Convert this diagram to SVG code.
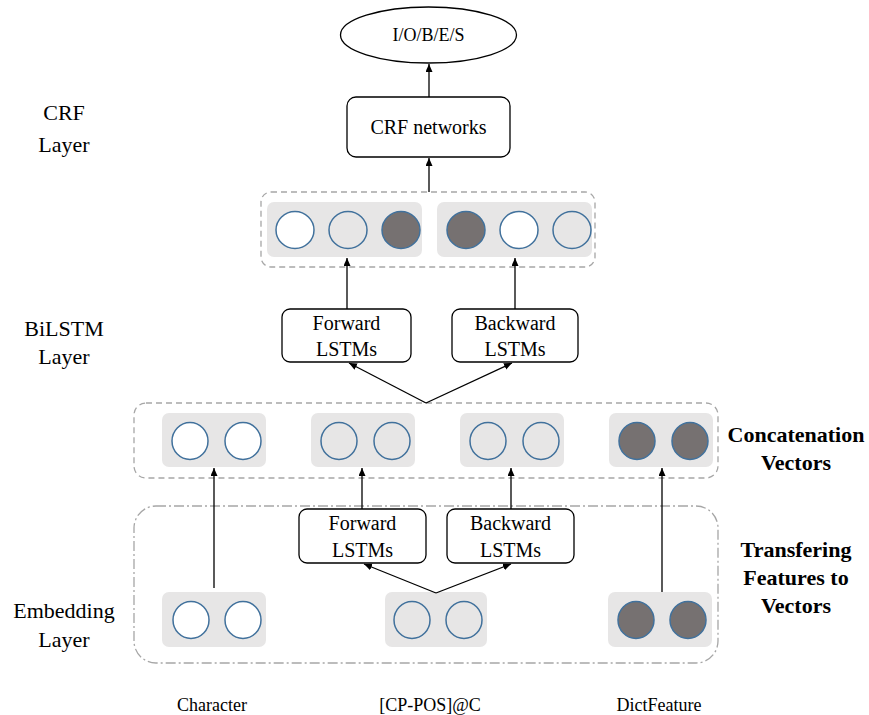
<svg xmlns="http://www.w3.org/2000/svg" width="869" height="715" viewBox="0 0 869 715">
<style>
text{font-family:"Liberation Serif","Times New Roman",serif;fill:#000;text-anchor:middle}
.lbl{font-size:22px}
.bold{font-size:22px;font-weight:bold}
.node{font-size:20px}
.small{font-size:18px}
.box{fill:#fff;stroke:#000;stroke-width:1.3}
.gbox{fill:#e7e6e6;stroke:none}
.dash{fill:none;stroke:#a6a6a6;stroke-width:1.3;stroke-dasharray:6 4}
.dashdot{fill:none;stroke:#a6a6a6;stroke-width:1.3;stroke-dasharray:10 3 2 3}
.cw{fill:#fff;stroke:#41719c;stroke-width:1.5}
.cl{fill:#e7e6e6;stroke:#41719c;stroke-width:1.5}
.cd{fill:#767171;stroke:#41719c;stroke-width:1.5}
.conn{fill:none;stroke:#000;stroke-width:1.3}
</style>
<defs>
<marker id="ah" markerUnits="userSpaceOnUse" markerWidth="9" markerHeight="8" refX="8" refY="3.5" orient="auto">
<path d="M0,0 L8,3.5 L0,7 z" fill="#000"/>
</marker>
</defs>

<g id="side-labels">
<text class="lbl" x="64" y="120">CRF</text>
<text class="lbl" x="64" y="152">Layer</text>
<text class="lbl" x="64" y="336">BiLSTM</text>
<text class="lbl" x="64" y="364">Layer</text>
<text class="lbl" x="64" y="618">Embedding</text>
<text class="lbl" x="64" y="647">Layer</text>
<text class="bold" x="796" y="442">Concatenation</text>
<text class="bold" x="796" y="470">Vectors</text>
<text class="bold" x="796" y="557">Transfering</text>
<text class="bold" x="796" y="585">Features to</text>
<text class="bold" x="796" y="613">Vectors</text>
<text class="small" x="212" y="711">Character</text>
<text class="small" x="430" y="711">[CP-POS]@C</text>
<text class="small" x="659" y="711">DictFeature</text>
</g>

<g id="output">
<ellipse cx="428.5" cy="35" rx="88" ry="28" class="box"/>
<text class="small" x="428.5" y="41">I/O/B/E/S</text>
</g>

<g id="crf">
<rect x="347" y="97" width="163" height="60" rx="9" class="box"/>
<text class="node" x="428.5" y="134">CRF networks</text>
</g>

<g id="bilstm-output">
<rect x="261" y="192" width="334" height="75" rx="10" class="dash"/>
<rect x="267" y="202" width="155" height="55" rx="7" class="gbox"/>
<rect x="437" y="202" width="155" height="55" rx="7" class="gbox"/>
<ellipse cx="295" cy="230" rx="19" ry="18.5" class="cw"/>
<ellipse cx="348" cy="230" rx="19" ry="18.5" class="cl"/>
<ellipse cx="401" cy="230" rx="19" ry="18.5" class="cd"/>
<ellipse cx="466" cy="230" rx="19" ry="18.5" class="cd"/>
<ellipse cx="519" cy="230" rx="19" ry="18.5" class="cw"/>
<ellipse cx="572" cy="230" rx="19" ry="18.5" class="cl"/>
</g>

<g id="forward-top">
<rect x="282" y="309" width="129" height="53" rx="8" class="box"/>
<text class="node" x="346.5" y="330">Forward</text>
<text class="node" x="346.5" y="356">LSTMs</text>
</g>
<g id="backward-top">
<rect x="452" y="309" width="126" height="53" rx="8" class="box"/>
<text class="node" x="515" y="330">Backward</text>
<text class="node" x="515" y="356">LSTMs</text>
</g>

<g id="concatenation">
<rect x="134" y="403" width="584" height="75" rx="12" class="dash"/>
<rect x="162" y="413" width="104" height="54" rx="7" class="gbox"/>
<rect x="311" y="413" width="104" height="54" rx="7" class="gbox"/>
<rect x="460" y="413" width="104" height="54" rx="7" class="gbox"/>
<rect x="609" y="413" width="104" height="54" rx="7" class="gbox"/>
<ellipse cx="190" cy="441" rx="18" ry="18.5" class="cw"/>
<ellipse cx="243" cy="441" rx="18" ry="18.5" class="cw"/>
<ellipse cx="339" cy="441" rx="18" ry="18.5" class="cl"/>
<ellipse cx="392" cy="441" rx="18" ry="18.5" class="cl"/>
<ellipse cx="488" cy="441" rx="18" ry="18.5" class="cl"/>
<ellipse cx="541" cy="441" rx="18" ry="18.5" class="cl"/>
<ellipse cx="637" cy="441" rx="18" ry="18.5" class="cd"/>
<ellipse cx="690" cy="441" rx="18" ry="18.5" class="cd"/>
</g>

<g id="embedding-frame">
<rect x="134" y="506" width="584" height="157" rx="22" class="dashdot"/>
</g>

<g id="forward-bottom">
<rect x="299" y="509" width="127" height="54" rx="8" class="box"/>
<text class="node" x="362.5" y="530">Forward</text>
<text class="node" x="362.5" y="557">LSTMs</text>
</g>
<g id="backward-bottom">
<rect x="447" y="509" width="127" height="54" rx="8" class="box"/>
<text class="node" x="510.5" y="530">Backward</text>
<text class="node" x="510.5" y="557">LSTMs</text>
</g>

<g id="emb-character">
<rect x="162" y="592" width="104" height="55" rx="7" class="gbox"/>
<ellipse cx="191" cy="620" rx="18" ry="18.5" class="cw"/>
<ellipse cx="243" cy="620" rx="18" ry="18.5" class="cw"/>
</g>
<g id="emb-cppos">
<rect x="385" y="592" width="102" height="55" rx="7" class="gbox"/>
<ellipse cx="412" cy="620" rx="18" ry="18.5" class="cl"/>
<ellipse cx="464" cy="620" rx="18" ry="18.5" class="cl"/>
</g>
<g id="emb-dict">
<rect x="608" y="592" width="104" height="55" rx="7" class="gbox"/>
<ellipse cx="636" cy="620" rx="18" ry="18.5" class="cd"/>
<ellipse cx="688" cy="620" rx="18" ry="18.5" class="cd"/>
</g>

<g id="connectors" class="conn">
<line x1="429" y1="97" x2="429" y2="64" marker-end="url(#ah)"/>
<line x1="429" y1="192" x2="429" y2="158" marker-end="url(#ah)"/>
<line x1="347" y1="309" x2="347" y2="258" marker-end="url(#ah)"/>
<line x1="515" y1="309" x2="515" y2="258" marker-end="url(#ah)"/>
<line x1="426" y1="403" x2="349" y2="363" marker-end="url(#ah)"/>
<line x1="426" y1="403" x2="512" y2="363" marker-end="url(#ah)"/>
<line x1="214" y1="588" x2="214" y2="468" marker-end="url(#ah)"/>
<line x1="362" y1="509" x2="362" y2="468" marker-end="url(#ah)"/>
<line x1="511" y1="509" x2="511" y2="468" marker-end="url(#ah)"/>
<line x1="662" y1="592" x2="662" y2="468" marker-end="url(#ah)"/>
<line x1="436" y1="593" x2="364" y2="564" marker-end="url(#ah)"/>
<line x1="436" y1="593" x2="511" y2="564" marker-end="url(#ah)"/>
</g>
</svg>
